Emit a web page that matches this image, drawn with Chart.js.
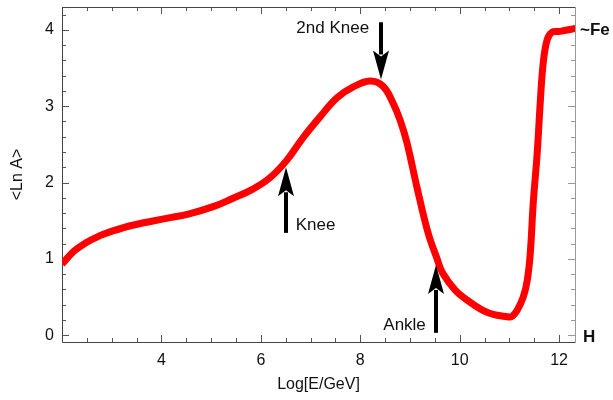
<!DOCTYPE html>
<html>
<head>
<meta charset="utf-8">
<script src="https://cdn.jsdelivr.net/npm/chart.js@4/dist/chart.umd.min.js"></script>
<style>
  html, body { margin: 0; padding: 0; background: #fff; }
  #c { display: block; }
</style>
</head>
<body>
<canvas id="c" width="613" height="400"></canvas>
<script>
// curve
const logE = [2.0, 2.24, 2.48, 2.75, 2.95, 3.42, 4.10, 4.56, 5.07, 5.43, 5.83, 6.18, 6.52, 6.84, 7.19, 7.53, 7.85, 8.20, 8.46, 8.66, 8.80, 8.94, 9.14, 9.36, 9.54, 9.66, 9.91, 10.15, 10.55, 10.96, 11.06, 11.16, 11.28, 11.36, 11.42, 11.48, 11.56, 11.62, 11.68, 11.76, 11.86, 12.02, 12.33];
const lnA = [0.93, 1.10, 1.21, 1.30, 1.35, 1.44, 1.53, 1.59, 1.69, 1.79, 1.91, 2.06, 2.29, 2.58, 2.86, 3.11, 3.25, 3.33, 3.26, 3.04, 2.82, 2.52, 1.94, 1.35, 1.01, 0.81, 0.59, 0.46, 0.30, 0.24, 0.25, 0.33, 0.50, 0.72, 1.07, 1.73, 2.39, 3.04, 3.56, 3.87, 3.97, 3.98, 4.02];

const xTicks = [4, 6, 8, 10, 12];
const yTicks = [0, 1, 2, 3, 4];

// arrows: x, tail y, tip y
const arrowLabels = ["2nd Knee", "Knee", "Ankle"];
const arrowX = [8.42, 6.50, 9.52];
const arrowTail = [4.10, 1.34, 0.03];
const arrowTip = [3.35, 2.20, 0.92];

const sideLabels = ["~Fe", "H"];
const sideY = [4.0, -0.03];

const FONT = "'Liberation Sans', Arial, Helvetica, sans-serif";

const points = logE.map((x, i) => ({ x: x, y: lnA[i] }));

function arrow(ctx, x, y0, y1) {
  const dir = y1 > y0 ? 1 : -1;
  const headLen = 29, headW = 8;
  ctx.save();
  ctx.strokeStyle = "#000";
  ctx.fillStyle = "#000";
  ctx.lineWidth = 4;
  ctx.beginPath();
  ctx.moveTo(x, y0);
  ctx.lineTo(x, y1 - dir * (headLen - 4));
  ctx.stroke();
  ctx.beginPath();
  ctx.moveTo(x, y1);
  ctx.lineTo(x - headW, y1 - dir * headLen);
  ctx.lineTo(x, y1 - dir * (headLen - 6));
  ctx.lineTo(x + headW, y1 - dir * headLen);
  ctx.closePath();
  ctx.fill();
  ctx.restore();
}

const framePlugin = {
  id: "frame",
  beforeDatasetsDraw(chart) {
    const { ctx, chartArea: a, scales } = chart;
    const sx = scales.x, sy = scales.y;
    ctx.save();
    ctx.lineWidth = 1;
    // ticks, pointing inward
    for (let v = 2; v <= 12.3; v += 0.5) {
      const px = Math.round(sx.getPixelForValue(v)) + 0.5;
      const len = (v % 2 === 0) ? 7 : 4;
      ctx.strokeStyle = "#555";
      ctx.beginPath();
      ctx.moveTo(px, a.bottom); ctx.lineTo(px, a.bottom - len);
      ctx.moveTo(px, a.top); ctx.lineTo(px, a.top + len);
      ctx.stroke();
    }
    for (let k = 0; k <= 21; k++) {
      const v = k * 0.2;
      const py = Math.round(sy.getPixelForValue(v)) + 0.5;
      const len = (k % 5 === 0) ? 7 : 4;
      ctx.strokeStyle = "#555";
      ctx.beginPath();
      ctx.moveTo(a.left, py); ctx.lineTo(a.left + len, py);
      ctx.stroke();
      ctx.strokeStyle = "#999";
      ctx.beginPath();
      ctx.moveTo(a.right, py); ctx.lineTo(a.right - len, py);
      ctx.stroke();
    }
    // frame
    const l = Math.round(a.left) + 0.5, r = Math.round(a.right) + 0.5;
    const t = Math.round(a.top) + 0.5, b = Math.round(a.bottom) + 0.5;
    ctx.strokeStyle = "#444";
    ctx.beginPath();
    ctx.moveTo(r, t); ctx.lineTo(l, t); ctx.lineTo(l, b); ctx.lineTo(r, b);
    ctx.stroke();
    ctx.strokeStyle = "#999";
    ctx.beginPath();
    ctx.moveTo(r, t); ctx.lineTo(r, b);
    ctx.stroke();
    ctx.restore();
  },
  afterDatasetsDraw(chart) {
    const { ctx, chartArea: a, scales } = chart;
    const sx = scales.x, sy = scales.y;
    ctx.save();
    arrowLabels.forEach((txt, i) => {
      const x = Math.round(sx.getPixelForValue(arrowX[i]));
      const y0 = sy.getPixelForValue(arrowTail[i]);
      const y1 = sy.getPixelForValue(arrowTip[i]);
      arrow(ctx, x, y0, y1);
    });
    ctx.fillStyle = "#111";
    ctx.font = "17px " + FONT;
    ctx.textBaseline = "middle";
    ctx.textAlign = "right";
    ctx.fillText(arrowLabels[0], sx.getPixelForValue(arrowX[0]) - 12, sy.getPixelForValue(4.02));
    ctx.textAlign = "left";
    ctx.fillText(arrowLabels[1], sx.getPixelForValue(arrowX[1]) + 10, sy.getPixelForValue(1.44));
    ctx.textAlign = "right";
    ctx.fillText(arrowLabels[2], sx.getPixelForValue(arrowX[2]) - 10, sy.getPixelForValue(0.13));
    // side labels
    ctx.font = "bold 17px " + FONT;
    ctx.textAlign = "left";
    ctx.fillText(sideLabels[0], a.right + 5, sy.getPixelForValue(sideY[0]));
    ctx.fillText(sideLabels[1], a.right + 8, sy.getPixelForValue(sideY[1]));
    ctx.restore();
  }
};

new Chart(document.getElementById("c"), {
  type: "line",
  data: {
    datasets: [{
      data: points,
      borderColor: "#ff0000",
      borderWidth: 7,
      pointRadius: 0,
      tension: 0.4,
      fill: false
    }]
  },
  plugins: [framePlugin],
  options: {
    responsive: false,
    animation: false,
    layout: { padding: { top: 7, right: 38, left: 0, bottom: 0 } },
    plugins: {
      legend: { display: false },
      tooltip: { enabled: false }
    },
    scales: {
      x: {
        type: "linear",
        min: 2,
        max: 12.32,
        afterBuildTicks(s) { s.ticks = xTicks.map(v => ({ value: v })); },
        afterFit(s) { s.height = 58; s.paddingLeft = 0; s.paddingRight = 0; },
        grid: { display: false, drawTicks: false },
        border: { display: false },
        ticks: { padding: 9, color: "#111", font: { family: FONT, size: 16 } },
        title: {
          display: true,
          text: "Log[E/GeV]",
          color: "#111",
          font: { family: FONT, size: 16 },
          padding: { top: 0, bottom: 6 }
        }
      },
      y: {
        type: "linear",
        min: -0.09,
        max: 4.3,
        afterBuildTicks(s) { s.ticks = yTicks.map(v => ({ value: v })); },
        afterFit(s) { s.width = 62; s.paddingTop = 0; s.paddingBottom = 0; },
        grid: { display: false, drawTicks: false },
        border: { display: false },
        ticks: { padding: 8, color: "#111", font: { family: FONT, size: 16 } },
        title: {
          display: true,
          text: "<Ln A>",
          color: "#111",
          font: { family: FONT, size: 16 },
          padding: { top: 8, bottom: 0 }
        }
      }
    }
  }
});
</script>
</body>
</html>
